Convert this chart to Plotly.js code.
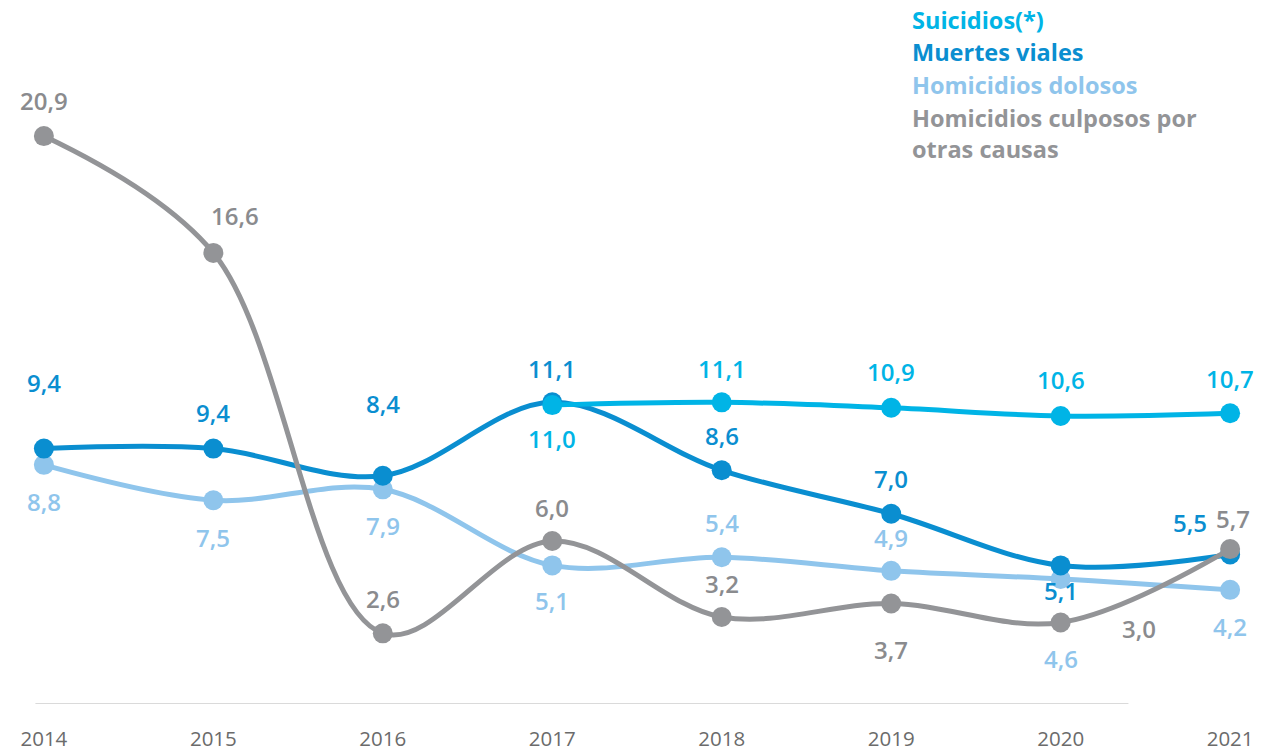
<!DOCTYPE html>
<html>
<head>
<meta charset="utf-8">
<script src="https://cdn.plot.ly/plotly-3.0.1.min.js"></script>
<style>html,body{margin:0;padding:0;background:#fff;}#chart{width:1272px;height:752px;}</style>
</head>
<body>
<div id="chart"></div>
<script>
// ---- data ----
var years = [2014, 2015, 2016, 2017, 2018, 2019, 2020, 2021];
var tickLabels = ["2014", "2015", "2016", "2017", "2018", "2019", "2020", "2021"];
var suicidios = [null, null, null, 11.0, 11.1, 10.9, 10.6, 10.7];
var muertesViales = [9.4, 9.4, 8.4, 11.1, 8.6, 7.0, 5.1, 5.5];
var homicidiosDolosos = [8.8, 7.5, 7.9, 5.1, 5.4, 4.9, 4.6, 4.2];
var homicidiosCulposos = [20.9, 16.6, 2.6, 6.0, 3.2, 3.7, 3.0, 5.7];
var seriesNames = ["Suicidios(*)", "Muertes viales", "Homicidios dolosos", "Homicidios culposos por<br>otras causas"];

// ---- style ----
var C_SUI = "#00B4E6", C_MV = "#0A8ED0", C_DOL = "#8FC5EC", C_CUL = "#939497";
var labelFont = "Open Sans, Noto Sans, sans-serif";

// label offsets (px): [xshift, yshift] per point
var offSui = [null, null, null, [0, -33], [0, 34], [0, 36], [0, 36], [0, 35]];
var offMV = [[0, 66], [0, 36], [0, 72], [0, 34], [0, 35], [0, 35], [0, -25], [-40, 32]];
var offDol = [[0, -37], [0, -37], [0, -36], [0, -35], [0, 35], [0, 33], [0, -79], [0, -37]];
var offCul = [[0, 36], [22, 37], [0, 35], [0, 33], [0, 34], [0, -46], [78, -6], [3, 31]];

function trace(y, color, width, name) {
  return {
    x: years, y: y, type: "scatter", mode: "lines+markers", name: name,
    line: {color: color, width: width, shape: "spline", smoothing: 1},
    marker: {color: color, size: 20},
    cliponaxis: false, connectgaps: false, hoverinfo: "x+y"
  };
}

var data = [
  trace(homicidiosDolosos, C_DOL, 5, "Homicidios dolosos"),
  trace(muertesViales, C_MV, 5, "Muertes viales"),
  trace(suicidios, C_SUI, 5, "Suicidios(*)"),
  trace(homicidiosCulposos, C_CUL, 5, "Homicidios culposos por otras causas")
];

function fmt(v) { return v.toFixed(1).replace(".", ","); }

var annotations = [];
function addLabels(vals, offs, color) {
  for (var i = 0; i < vals.length; i++) {
    if (vals[i] === null) continue;
    annotations.push({
      x: years[i], y: vals[i], xref: "x", yref: "y", text: fmt(vals[i]),
      showarrow: false, xanchor: "center", yanchor: "middle",
      xshift: offs[i][0], yshift: offs[i][1],
      font: {family: labelFont, size: 24, color: color, weight: 600}
    });
  }
}
addLabels(suicidios, offSui, C_SUI);
addLabels(muertesViales, offMV, C_MV);
addLabels(homicidiosDolosos, offDol, C_DOL);
addLabels(homicidiosCulposos, offCul, "#8A8B8E");

// legend as coloured text
var legColors = [C_SUI, C_MV, C_DOL, C_CUL];
var legY = [1.094, 1.043, 0.990, 0.939];
for (var k = 0; k < seriesNames.length; k++) {
  annotations.push({
    x: 0.7175, y: legY[k], xref: "paper", yref: "paper", text: seriesNames[k],
    showarrow: false, xanchor: "left", yanchor: k === 3 ? "top" : "middle", align: "left",
    yshift: k === 3 ? 17 : 0,
    font: {family: labelFont, size: 23.5, color: legColors[k], weight: 700}
  });
}

var layout = {
  width: 1272, height: 752,
  margin: {l: 10, r: 8, t: 79, b: 48},
  paper_bgcolor: "#ffffff", plot_bgcolor: "#ffffff",
  showlegend: false,
  xaxis: {
    range: [2013.8, 2021.2], tickvals: years, ticktext: tickLabels,
    showgrid: false, zeroline: false, showline: false, ticks: "",
    ticklabelstandoff: 20,
    tickfont: {family: labelFont, size: 20.5, color: "#6B6B6B"}
  },
  yaxis: {
    range: [0, 23], visible: false, showgrid: false, zeroline: false
  },
  shapes: [{
    type: "line", xref: "x", yref: "y", x0: 2013.95, x1: 2020.4, y0: 0, y1: 0,
    line: {color: "#DADADA", width: 2}, layer: "below"
  }],
  annotations: annotations
};

Plotly.newPlot("chart", data, layout, {displayModeBar: false, staticPlot: true});
</script>
</body>
</html>
